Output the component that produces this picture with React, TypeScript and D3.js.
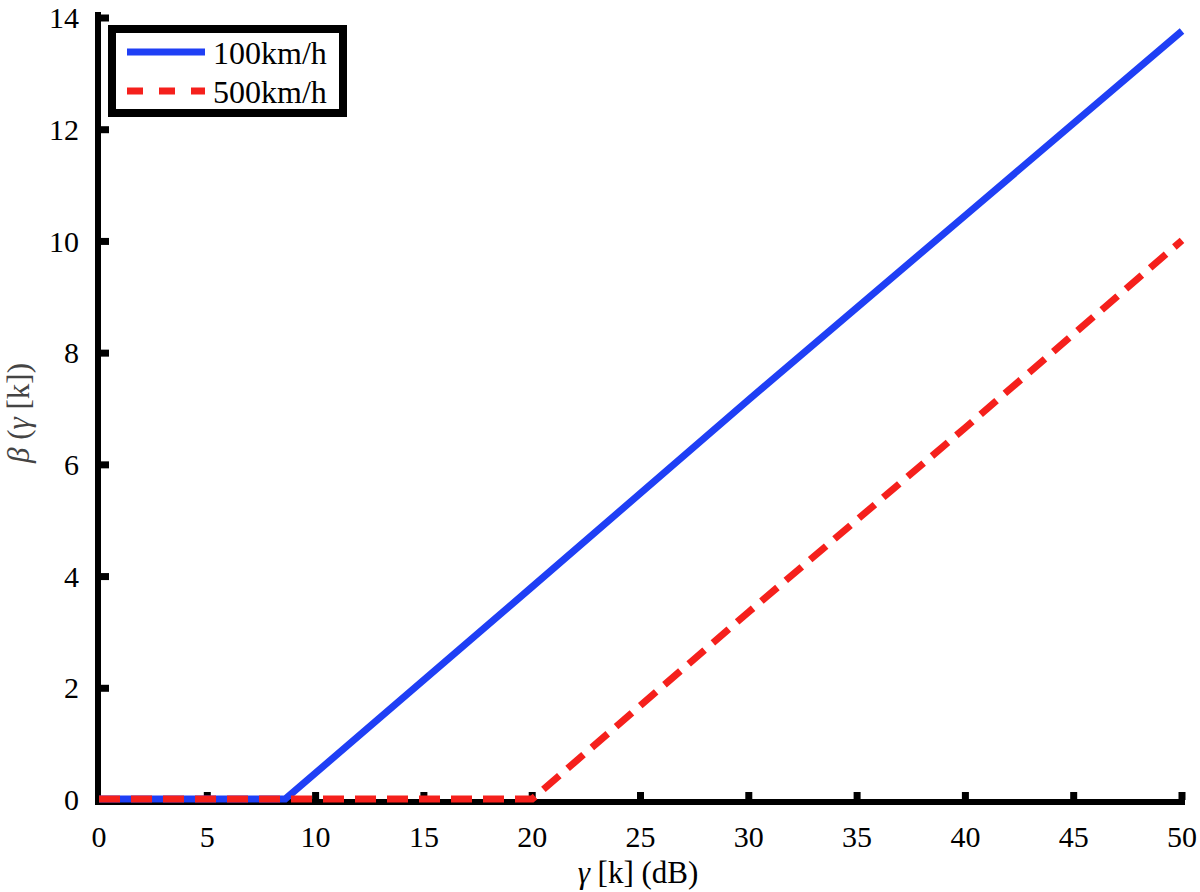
import { useEffect, useRef } from "react";
import * as d3 from "d3";

const width = 1200;
const height = 892;
const margin = { top: 18, right: 18, bottom: 92, left: 99 };

// values: [gamma (dB), beta]
const speedLabels = ["100km/h", "500km/h"];
const series100 = [
  [0, 0],
  [8.6, 0],
  [20, 3.8],
  [30, 7.15],
  [40, 10.45],
  [50, 13.75],
];
const series500 = [
  [0, 0],
  [20, 0],
  [30, 3.35],
  [40, 6.65],
  [50, 10],
];
const xTicks = [0, 5, 10, 15, 20, 25, 30, 35, 40, 45, 50];
const yTicks = [0, 2, 4, 6, 8, 10, 12, 14];

const font = "Liberation Serif";

function App() {
  const d3Node = useRef(null);

  useEffect(() => {
    document.body.style.margin = "0";
    const root = d3.select(d3Node.current);
    root.selectAll("svg").remove();

    const svg = root
      .append("svg")
      .attr("width", width)
      .attr("height", height)
      .style("display", "block")
      .style("background", "#fff");

    const x = d3
      .scaleLinear()
      .domain([0, 50])
      .range([margin.left, width - margin.right]);
    const y = d3
      .scaleLinear()
      .domain([0, 14])
      .range([height - margin.bottom, margin.top]);

    const y0 = y(0);

    // axes (only left + bottom, thick black)
    svg
      .append("line")
      .attr("x1", x(0) - 4)
      .attr("x2", x(50) + 3)
      .attr("y1", y0 + 2)
      .attr("y2", y0 + 2)
      .attr("stroke", "#000")
      .attr("stroke-width", 6);
    svg
      .append("line")
      .attr("x1", x(0) - 1)
      .attr("x2", x(0) - 1)
      .attr("y1", y(14) - 6)
      .attr("y2", y0 + 5)
      .attr("stroke", "#000")
      .attr("stroke-width", 6);

    // tick marks pointing inward
    svg
      .append("g")
      .selectAll("rect")
      .data(xTicks.slice(1))
      .enter()
      .append("rect")
      .attr("x", (d) => x(d) - 3.5)
      .attr("y", y0 - 8)
      .attr("width", 7)
      .attr("height", 8)
      .attr("fill", "#000");
    svg
      .append("g")
      .selectAll("rect")
      .data(yTicks.slice(1))
      .enter()
      .append("rect")
      .attr("x", x(0) + 2)
      .attr("y", (d) => y(d) - 3.5)
      .attr("width", 8)
      .attr("height", 7)
      .attr("fill", "#000");

    // tick labels
    svg
      .append("g")
      .selectAll("text")
      .data(xTicks)
      .enter()
      .append("text")
      .attr("x", (d) => x(d))
      .attr("y", y0 + 47)
      .attr("text-anchor", "middle")
      .style("font-family", font)
      .style("font-size", "30px")
      .text((d) => d);
    svg
      .append("g")
      .selectAll("text")
      .data(yTicks)
      .enter()
      .append("text")
      .attr("x", x(0) - 20)
      .attr("y", (d) => y(d))
      .attr("dy", "0.34em")
      .attr("text-anchor", "end")
      .style("font-family", font)
      .style("font-size", "30px")
      .text((d) => d);

    // axis titles
    const xt = svg
      .append("text")
      .attr("x", 638)
      .attr("y", 883)
      .attr("text-anchor", "middle")
      .style("font-family", font)
      .style("font-size", "31px");
    xt.append("tspan").style("font-style", "italic").text("γ");
    xt.append("tspan").text(" [k] (dB)");

    const yt = svg
      .append("text")
      .attr("transform", "translate(29,413) rotate(-90)")
      .attr("text-anchor", "middle")
      .attr("fill", "#444")
      .style("font-family", font)
      .style("font-size", "31px");
    yt.append("tspan").style("font-style", "italic").text("β");
    yt.append("tspan").text(" (");
    yt.append("tspan").style("font-style", "italic").text("γ");
    yt.append("tspan").text(" [k])");

    // data lines
    const line = d3
      .line()
      .x((d) => x(d[0]))
      .y((d) => y(d[1]) - 1);

    svg
      .append("path")
      .datum(series100)
      .attr("fill", "none")
      .attr("stroke", "#1f3ff5")
      .attr("stroke-width", 7)
      .attr("d", line);
    svg
      .append("path")
      .datum(series500)
      .attr("fill", "none")
      .attr("stroke", "#f5201c")
      .attr("stroke-width", 7)
      .attr("stroke-dasharray", "21 11")
      .attr("d", line);

    // legend
    const lg = svg.append("g");
    lg.append("rect")
      .attr("x", 112)
      .attr("y", 29)
      .attr("width", 231)
      .attr("height", 84)
      .attr("fill", "#fff")
      .attr("stroke", "#000")
      .attr("stroke-width", 8);
    const colors = ["#1f3ff5", "#f5201c"];
    const dashes = [null, "16 16"];
    speedLabels.forEach((lab, i) => {
      const ly = 52 + i * 39;
      lg.append("line")
        .attr("x1", 127)
        .attr("x2", 205)
        .attr("y1", ly)
        .attr("y2", ly)
        .attr("stroke", colors[i])
        .attr("stroke-width", 7)
        .attr("stroke-dasharray", dashes[i]);
      lg.append("text")
        .attr("x", 213)
        .attr("y", ly + 12)
        .style("font-family", font)
        .style("font-size", "32px")
        .text(lab);
    });
  }, []);

  return <div ref={d3Node} />;
}

export default App;
